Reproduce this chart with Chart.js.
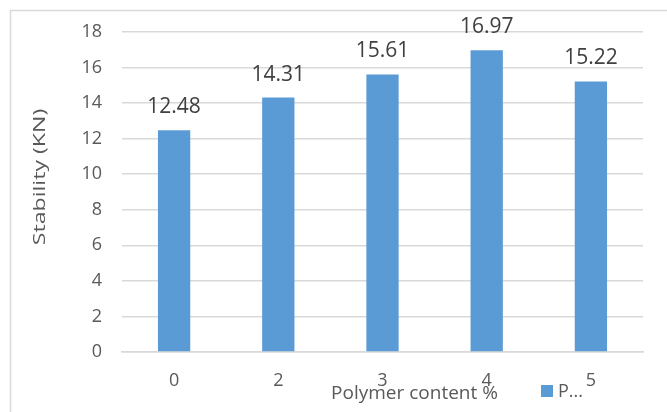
<!DOCTYPE html>
<html>
<head>
<meta charset="utf-8">
<script src="https://cdn.jsdelivr.net/npm/chart.js@4/dist/chart.umd.min.js"></script>
<style>
html,body{margin:0;padding:0;background:#fff;}
#wrap{width:667px;height:412px;position:relative;}
</style>
</head>
<body>
<div id="wrap"><canvas id="c" width="667" height="412"></canvas></div>
<script>
const categories = ["0", "2", "3", "4", "5"];
const seriesName = "P...";
const stability = [12.48, 14.31, 15.61, 16.97, 15.22];
const yTicks = [0, 2, 4, 6, 8, 10, 12, 14, 16, 18];
const yTitle = "Stability (KN)";
const xTitle = "Polymer content %";

const FONT = "'Open Sans', 'DejaVu Sans', sans-serif";
const TEXT = "#595959";
const BAR = "#5b9bd5";

const extras = {
  id: 'extras',
  beforeDraw(chart) {
    const ctx = chart.ctx;
    ctx.save();
    ctx.strokeStyle = '#d9d9d9';
    ctx.lineWidth = 1.5;
    ctx.strokeRect(10.5, 10.5, 700, 420);
    ctx.restore();
  },
  afterDatasetsDraw(chart) {
    const ctx = chart.ctx;
    const meta = chart.getDatasetMeta(0);
    ctx.save();
    ctx.font = "21px " + FONT;
    ctx.fillStyle = "#404040";
    ctx.textAlign = 'center';
    ctx.textBaseline = 'alphabetic';
    meta.data.forEach((bar, i) => {
      ctx.fillText(stability[i].toFixed(2), bar.x, bar.y - 17);
    });
    // y title
    ctx.fillStyle = TEXT;
    ctx.font = "17px " + FONT;
    ctx.translate(40, 177);
    ctx.rotate(-Math.PI / 2);
    ctx.scale(1.36, 1);
    ctx.textAlign = 'center';
    ctx.textBaseline = 'middle';
    ctx.fillText(yTitle, 0, 0);
    ctx.restore();

    ctx.save();
    ctx.fillStyle = TEXT;
    ctx.font = "19px " + FONT;
    ctx.textAlign = 'center';
    ctx.textBaseline = 'middle';
    ctx.fillText(xTitle, 414.5, 394);
    // legend
    ctx.fillStyle = BAR;
    ctx.fillRect(541, 385, 12, 12);
    ctx.fillStyle = TEXT;
    ctx.font = "18px " + FONT;
    ctx.textAlign = 'left';
    ctx.fillText(seriesName, 558, 392);
    ctx.restore();
  }
};

new Chart(document.getElementById('c'), {
  type: 'bar',
  data: {
    labels: categories,
    datasets: [{
      label: seriesName,
      data: stability,
      backgroundColor: BAR,
      borderWidth: 0,
      barPercentage: 0.31,
      categoryPercentage: 1.0
    }]
  },
  options: {
    responsive: false,
    animation: false,
    devicePixelRatio: 1,
    layout: { padding: { top: 32, right: 24, bottom: 0, left: 0 } },
    plugins: { legend: { display: false }, tooltip: { enabled: false } },
    scales: {
      x: {
        grid: { display: false, drawTicks: false },
        border: { display: true, color: '#d9d9d9', width: 1.5 },
        ticks: { color: TEXT, font: { family: FONT, size: 18 }, padding: 18 },
        afterFit(s) { s.height = 60; }
      },
      y: {
        min: 0, max: 18,
        afterBuildTicks(s) { s.ticks = yTicks.map(v => ({ value: v })); },
        grid: { color: '#d9d9d9', lineWidth: 1.5, drawTicks: false },
        border: { display: false },
        ticks: { color: TEXT, font: { family: FONT, size: 18 }, padding: 20 },
        afterFit(s) { s.width = 122; }
      }
    }
  },
  plugins: [extras]
});
</script>
</body>
</html>
